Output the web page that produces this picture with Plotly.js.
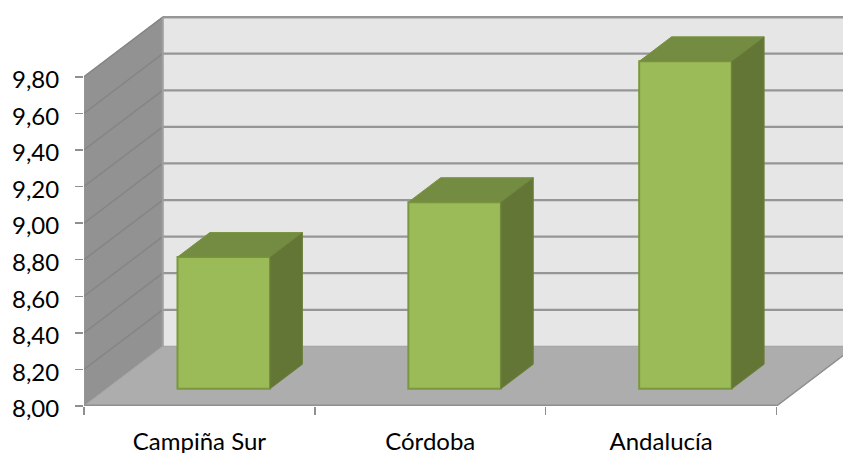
<!DOCTYPE html>
<html><head><meta charset="utf-8">
<script src="https://cdn.plot.ly/plotly-3.0.1.min.js"></script>
<style>html,body{margin:0;padding:0;background:#fff;overflow:hidden}</style>
</head><body><div id="chart" style="width:843px;height:453px"></div>
<script>
const categories = ["Campiña Sur", "Córdoba", "Andalucía"];
const values = [8.72, 9.02, 9.79];
const yTicks = [8.0, 8.2, 8.4, 8.6, 8.8, 9.0, 9.2, 9.4, 9.6, 9.8];
const categoryEdges = [-0.5, 0.5, 1.5, 2.5];

// depth of the 3D box, in axis units
const DX = 0.341, DY = 0.326;
const barFront = 0.289, barBack = 0.70, barWidth = 0.401, barShift = 0.007;
const yBase = 8, yTop = 9.8;
const xL = -0.5, xR = 2.5;
const xMax = 2.788, yMax = 10.165;

const line = (x0,y0,x1,y1,color,width) => ({type:'line',xref:'x',yref:'y',x0,y0,x1,y1,layer:'below',line:{color,width}});
const poly = (pts,fill,lineColor,w) => ({type:'path',xref:'x',yref:'y',layer:'below',
  path:'M'+pts.map(p=>p[0]+','+p[1]).join('L')+'Z',fillcolor:fill,line:{color:lineColor||fill,width:w===undefined?1:w}});

const shapes = [
  poly([[xL,yBase],[xL,yTop],[xL+DX,yTop+DY],[xL+DX,yBase+DY]],'#929292','#9a9a9a',1),
  poly([[xL+DX,yBase+DY],[xL+DX,yTop+DY],[xR+DX,yTop+DY],[xR+DX,yBase+DY]],'#e6e6e6','#a0a0a0',1),
  poly([[xL,yBase],[xL+DX,yBase+DY],[xR+DX,yBase+DY],[xR,yBase]],'#adadad','#a6a6a6',1)
];
yTicks.forEach(t=>{
  if(t>yBase){
    shapes.push(line(xL,t,xL+DX,t+DY,'#858585',1.5));
    shapes.push(line(xL+DX,t+DY,xR+DX,t+DY,'#969696',2.2));
  }
});
shapes.push(line(xL+DX,yBase+DY,xL+DX,yTop+DY,'#9f9f9f',2));
shapes.push(line(xL+DX,yTop+DY,xR+DX,yTop+DY,'#969696',2.2));
shapes.push(line(xL,yBase,xR,yBase,'#8f8f8f',3));
shapes.push(line(xR,yBase,xR+DX,yBase+DY,'#8f8f8f',1.5));

const barCenter = i => i + barFront*DX + barShift;
const traces = [{
  type:'bar', x:categories.map((c,i)=>barCenter(i)), y:values.map(v=>v-yBase),
  base:values.map(()=>yBase+barFront*DY), width:barWidth,
  marker:{color:'#9bbb59',line:{color:'#7a983f',width:2}}, hoverinfo:'skip'
}];
categories.forEach((c,i)=>{
  const cx=barCenter(i), l=cx-barWidth/2, r=cx+barWidth/2;
  const d=barBack-barFront, b=yBase+barFront*DY, t=values[i]+barFront*DY;
  traces.push({type:'scatter',mode:'lines',x:[l,l+d*DX,r+d*DX,r,l],y:[t,t+d*DY,t+d*DY,t,t],
    fill:'toself',fillcolor:'#748c41',line:{color:'#7a933f',width:1},hoverinfo:'skip'});
  traces.push({type:'scatter',mode:'lines',x:[r,r+d*DX,r+d*DX,r,r],y:[t,t+d*DY,b+d*DY,b,t],
    fill:'toself',fillcolor:'#647636',line:{color:'#6c803a',width:1},hoverinfo:'skip'});
});

const font = {family:'Lato, "Open Sans", sans-serif',size:24,color:'#000'};
Plotly.newPlot('chart',traces,{
  width:843,height:453,showlegend:false,separators:',.',
  paper_bgcolor:'#fff',plot_bgcolor:'rgba(0,0,0,0)',barmode:'overlay',
  margin:{l:83.5,r:0,t:10,b:47},
  xaxis:{range:[xL,xMax],tickmode:'array',tickvals:categories.map((c,i)=>i),ticktext:categories,
    ticks:'outside',ticklen:14,tickcolor:'rgba(0,0,0,0)',tickfont:font,showgrid:false,zeroline:false,showline:false,
    minor:{tickmode:'array',tickvals:categoryEdges,ticks:'outside',ticklen:8,tickcolor:'#8f8f8f',tickwidth:1.5,showgrid:false}},
  yaxis:{range:[yBase,yMax],tickmode:'array',tickvals:yTicks,tickformat:'.2f',ticklabelstandoff:11,ticklabelshift:3,
    ticks:'outside',ticklen:8,tickcolor:'#8f8f8f',tickwidth:1.5,tickfont:font,showgrid:false,zeroline:false,showline:false},
  shapes
},{displayModeBar:false,staticPlot:true});
</script></body></html>
